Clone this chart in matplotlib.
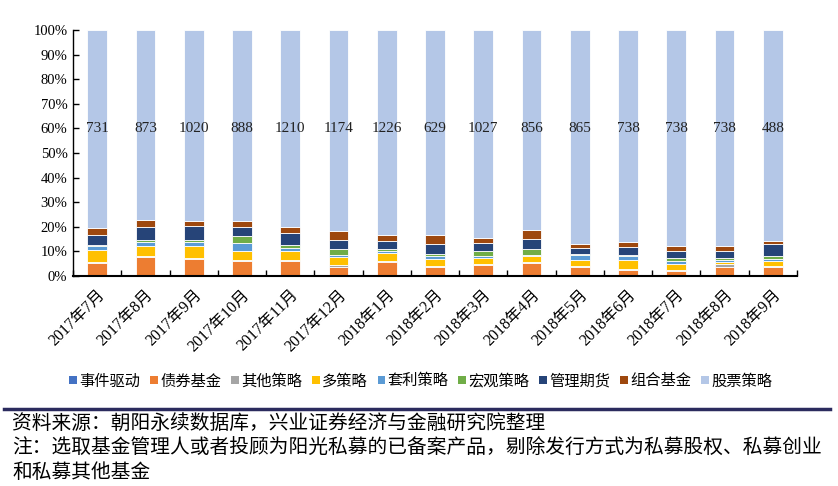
import matplotlib
matplotlib.use("Agg")
import matplotlib.pyplot as plt
import numpy as np
from matplotlib.lines import Line2D
from matplotlib.patches import Patch

plt.rcParams['font.family'] = ['Liberation Serif', 'Noto Sans CJK SC', 'DejaVu Sans']

months = ["2017年7月", "2017年8月", "2017年9月", "2017年10月", "2017年11月", "2017年12月",
          "2018年1月", "2018年2月", "2018年3月", "2018年4月", "2018年5月", "2018年6月",
          "2018年7月", "2018年8月", "2018年9月"]
counts = [731, 873, 1020, 888, 1210, 1174, 1226, 629, 1027, 856, 865, 738, 738, 738, 488]

series_names = ["事件驱动", "债券基金", "其他策略", "多策略", "套利策略", "宏观策略", "管理期货", "组合基金", "股票策略"]

event_driven = [0.2, 0.2, 0.2, 0.2, 0.2, 0.2, 0.2, 0.2, 0.2, 0.2, 0.2, 0.2, 0.3, 0.2, 0.2]
bond_fund    = [5.0, 7.7, 6.6, 5.7, 6.1, 3.4, 5.3, 3.3, 4.3, 5.0, 3.4, 2.4, 1.9, 3.5, 3.4]
other        = [0.5, 0.4, 0.7, 0.5, 0.4, 0.8, 0.4, 0.7, 0.5, 0.4, 0.4, 0.3, 0.4, 1.0, 0.3]
multi        = [4.9, 3.9, 4.7, 3.6, 3.6, 3.4, 3.4, 2.7, 2.2, 2.7, 2.7, 3.8, 2.3, 1.0, 2.4]
arbitrage    = [1.5, 1.8, 1.6, 3.6, 1.2, 0.9, 0.9, 1.1, 0.9, 0.4, 1.9, 1.5, 1.2, 0.9, 0.8]
macro        = [0.5, 0.8, 1.0, 2.7, 0.9, 2.2, 0.9, 1.1, 2.2, 2.4, 0.4, 0.5, 1.1, 0.9, 1.1]
cta          = [3.9, 5.1, 5.4, 3.6, 4.9, 3.9, 3.3, 3.9, 3.1, 4.1, 2.2, 3.1, 3.0, 2.8, 4.9]
fof          = [3.0, 2.7, 2.2, 2.6, 2.7, 3.3, 2.4, 3.8, 1.9, 3.3, 1.8, 2.2, 2.0, 1.9, 1.2]

colors = ["#4472C4", "#ED7D31", "#A5A5A5", "#FFC000", "#5B9BD5", "#70AD47", "#264478", "#9E480E", "#B4C7E7"]

lower = [event_driven, bond_fund, other, multi, arbitrage, macro, cta, fof]
lower_arr = np.array(lower, dtype=float)
stock = 100.0 - lower_arr.sum(axis=0)
all_series = [np.array(s, dtype=float) for s in lower] + [stock]

fig = plt.figure(figsize=(8.38, 4.86), dpi=100)
ax = fig.add_axes([73/838, 1 - 276/486, (797 - 73)/838, (276 - 30)/486])

x = np.arange(len(months))
bottom = np.zeros(len(months))
for vals, col in zip(all_series, colors):
    ax.bar(x, vals / 100.0, bottom=bottom, width=0.41, color=col, edgecolor="white", linewidth=0.6, zorder=2)
    bottom += vals / 100.0

for xi, c in zip(x, counts):
    ax.text(xi, 0.60, str(c), ha="center", va="center", fontsize=11,
            family=['Liberation Serif'], color="#222222", zorder=3)

ax.set_xlim(-0.5, len(months) - 0.5)
ax.set_ylim(0, 1.0)
ax.set_yticks(np.arange(0, 1.01, 0.1))
ax.set_yticklabels([f"{int(round(v*100))}%" for v in np.arange(0, 1.01, 0.1)],
                   fontsize=10.5, family=['Liberation Serif'])
ax.set_xticks(x)
ax.set_xticklabels(months, rotation=45, ha="right", rotation_mode="anchor", fontsize=11.5)
ax.tick_params(axis="x", length=0, pad=8)
ax.tick_params(axis="y", direction="in", length=4, width=1, pad=4)
ax.set_xticks(np.arange(-0.5, len(months) + 0.5, 1.0), minor=True)
ax.tick_params(axis="x", which="minor", direction="in", length=4, width=1)

for s in ["top", "right"]:
    ax.spines[s].set_visible(False)
ax.spines["left"].set_linewidth(1.0)
ax.spines["bottom"].set_linewidth(1.5)

handles = [Patch(facecolor=c, edgecolor="none") for c in colors]
fig.legend(handles, series_names, loc="center", bbox_to_anchor=(0.502, 1 - 381/486), ncol=9,
           frameon=False, fontsize=11, handlelength=0.5, handleheight=0.5,
           handletextpad=0.15, columnspacing=0.65)

fig.add_artist(Line2D([4/838, 830/838], [1 - 409/486, 1 - 409/486], color="#2B2B5E", linewidth=2.5))

fs = 14.2
fig.text(12/838, 1 - 424/486, "资料来源：朝阳永续数据库，兴业证券经济与金融研究院整理", fontsize=fs, va="center", ha="left")
fig.text(12/838, 1 - 449/486, "注：选取基金管理人或者投顾为阳光私募的已备案产品，剔除发行方式为私募股权、私募创业",
         fontsize=fs, va="center", ha="left")
fig.text(12/838, 1 - 473/486, "和私募其他基金", fontsize=fs, va="center", ha="left")

fig.savefig("out.png", dpi=100)
